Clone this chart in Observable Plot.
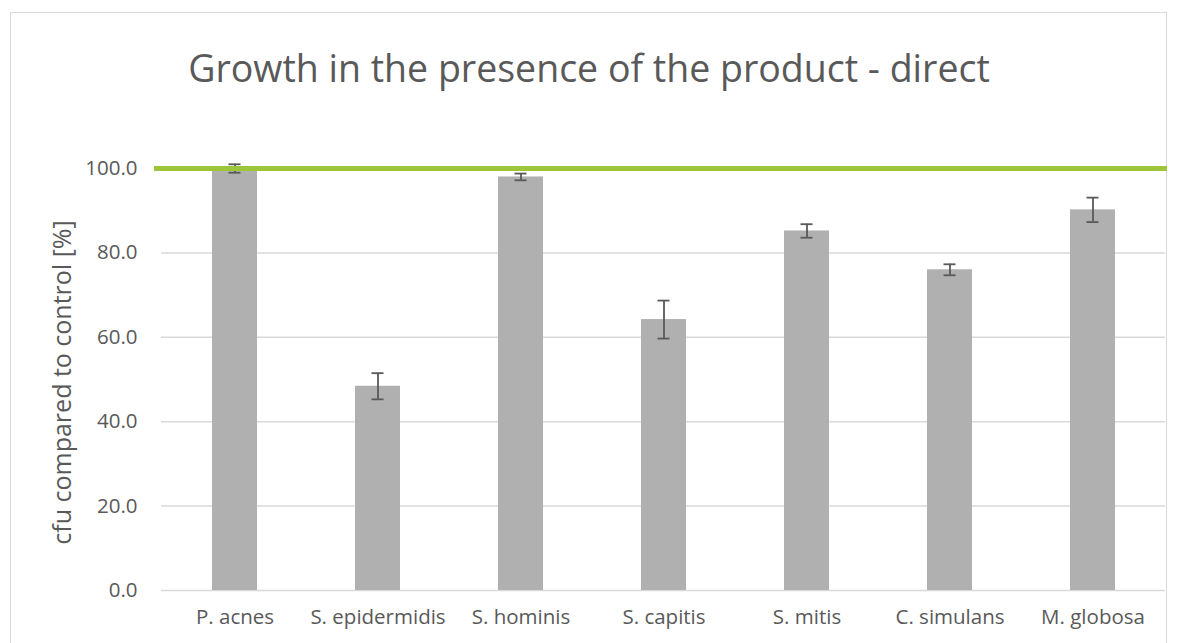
<!DOCTYPE html>
<html>
<head>
<meta charset="utf-8">
<script src="https://cdn.jsdelivr.net/npm/d3@7"></script>
<script src="https://cdn.jsdelivr.net/npm/@observablehq/plot@0.6"></script>
<style>
  body { margin: 0; background: #fff; }
  #wrap { position: relative; width: 1181px; height: 643px; overflow: hidden; background: #fff; font-family: "Open Sans", sans-serif; }
  #frame { position: absolute; left: 10px; top: 12px; width: 1157px; height: 700px; border: 1.5px solid #d9d9d9; box-sizing: border-box; }
  #title { position: absolute; left: 10px; width: 1158px; top: 49px; text-align: center; font-size: 37.5px; color: #595959; line-height: 1; white-space: nowrap; }
  #chart { position: absolute; left: 0; top: 130px; }
</style>
</head>
<body>
<div id="wrap">
  <div id="frame"></div>
  <div id="title">Growth in the presence of the product - direct</div>
  <div id="chart"></div>
</div>
<script>
const species = ["P. acnes", "S. epidermidis", "S. hominis", "S. capitis", "S. mitis", "C. simulans", "M. globosa"];
const growth = [100.0, 48.4, 98.0, 64.2, 85.2, 76.0, 90.2];
const errors = [1.0, 3.1, 0.8, 4.5, 1.6, 1.3, 2.9];
const yTicks = [0, 20, 40, 60, 80, 100];
const gridTicks = [20, 40, 60, 80];
const referenceLevel = [100];
const yLabel = "cfu compared to control [%]";

const rows = species.map((s, i) => ({species: s, value: growth[i], err: errors[i]}));

const textColor = "#595959";
const gridColor = "#d9d9d9";
const barColor = "#b0b0b0";
const lineColor = "#9dc53b";

const plot = Plot.plot({
  width: 1181,
  height: 513,
  marginTop: 38,
  marginBottom: 53,
  marginLeft: 161,
  marginRight: 16,
  style: {fontFamily: "'Open Sans', sans-serif", fontSize: "20px", color: textColor, background: "transparent", overflow: "visible"},
  x: {domain: species, paddingInner: 0.686, paddingOuter: 0.343, label: null},
  y: {domain: [0, 100], label: null},
  marks: [
    Plot.gridY(gridTicks, {stroke: gridColor, strokeOpacity: 1, strokeWidth: 1.5}),
    Plot.ruleY([0], {stroke: gridColor, strokeWidth: 1.5}),
    Plot.axisY(yTicks, {tickFormat: d3.format(".1f"), tickSize: 0, tickPadding: 24, fontSize: 20.5, fill: textColor, label: null}),
    Plot.axisX({tickSize: 0, tickPadding: 19, fontSize: 20.5, fill: textColor, label: null}),
    Plot.text([yLabel], {frameAnchor: "left", dx: -99, dy: 3, rotate: -90, fontSize: 25, fill: textColor, textAnchor: "middle"}),
    Plot.barY(rows, {x: "species", y: "value", fill: barColor}),
    Plot.ruleX(rows, {x: "species", y1: d => d.value - d.err, y2: d => d.value + d.err, stroke: textColor, strokeWidth: 1.8}),
    Plot.tickY(rows, {x: "species", y: d => d.value + d.err, stroke: textColor, strokeWidth: 1.8, insetLeft: 16.5, insetRight: 16.5}),
    Plot.tickY(rows, {x: "species", y: d => d.value - d.err, stroke: textColor, strokeWidth: 1.8, insetLeft: 16.5, insetRight: 16.5}),
    Plot.ruleY(referenceLevel, {stroke: lineColor, strokeWidth: 5, insetLeft: -7, insetRight: -2})
  ]
});
document.getElementById("chart").appendChild(plot);
</script>
</body>
</html>
